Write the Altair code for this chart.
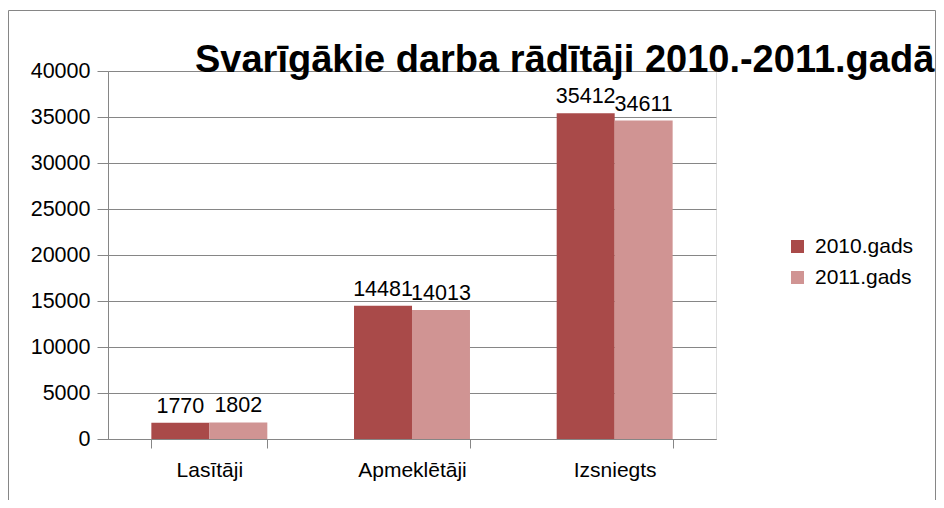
import altair as alt
import pandas as pd

categories = ["Lasītāji", "Apmeklētāji", "Izsniegts"]
series = ["2010.gads", "2011.gads"]
values_2010 = [1770, 14481, 35412]
values_2011 = [1802, 14013, 34611]
title_text = "Svarīgākie darba rādītāji 2010.-2011.gadā"
colors = ["#A94A49", "#D09493"]

rows = []
for c, a, b in zip(categories, values_2010, values_2011):
    rows.append({"cat": c, "series": series[0], "value": a})
    rows.append({"cat": c, "series": series[1], "value": b})
df = pd.DataFrame(rows)

FONT = "Liberation Sans, sans-serif"
TFONT = "Liberation Sans Narrow, Liberation Sans, sans-serif"
GRAY = "#868686"

x_enc = alt.X("cat:N", sort=categories, title=None,
              scale=alt.Scale(paddingInner=0.428, paddingOuter=0.214),
              axis=alt.Axis(labelAngle=0, tickBand="extent", tickSize=9,
                            labelPadding=11, labelFontSize=21, labelFont=FONT,
                            labelColor="#000000", domainColor=GRAY, tickColor=GRAY,
                            grid=False))
xo_enc = alt.XOffset("series:N", sort=series, scale=alt.Scale(paddingInner=0, paddingOuter=0))
y_enc = alt.Y("value:Q", title=None,
              scale=alt.Scale(domain=[0, 40000], nice=False),
              axis=alt.Axis(values=list(range(0, 40001, 5000)), format="d", tickSize=11,
                            labelPadding=7, labelFontSize=21.5, labelFont=FONT,
                            labelColor="#000000", domainColor=GRAY, tickColor=GRAY,
                            gridColor=GRAY, grid=True))

bars = alt.Chart(df).mark_bar(size=58).encode(
    x=x_enc, xOffset=xo_enc, y=y_enc,
    color=alt.Color("series:N", sort=series, title=None,
                    scale=alt.Scale(domain=series, range=colors),
                    legend=alt.Legend(orient="none", legendX=679, legendY=165,
                                      symbolType="square", symbolSize=169,
                                      symbolStrokeWidth=0, labelFontSize=21,
                                      labelFont=FONT, labelColor="#000000",
                                      rowPadding=9, labelOffset=7)),
)

labels = alt.Chart(df).mark_text(baseline="bottom", dy=-5, fontSize=21.5, font=FONT,
                                 color="#000000").encode(
    x=alt.X("cat:N", sort=categories), xOffset=alt.XOffset("series:N", sort=series),
    y="value:Q", text="value:Q",
)

frame_df = pd.DataFrame({"k": [0]})
frame = alt.Chart(frame_df).mark_rect(fill=None, stroke=GRAY, strokeWidth=1).encode(
    x=alt.value(-99.5), x2=alt.value(827.5), y=alt.value(-60.5), y2=alt.value(520),
)

title_df = pd.DataFrame({"t": [title_text]})
title = alt.Chart(title_df).mark_text(align="left", baseline="alphabetic", fontSize=38,
                                      fontWeight="bold", font=TFONT, color="#000000").encode(
    x=alt.value(87), y=alt.value(1), text="t:N",
)

chart = alt.layer(frame, bars, labels, title).properties(
    width=608, height=368,
    autosize=alt.AutoSizeParams(type="none"),
    padding={"left": 100, "top": 63, "right": 220, "bottom": 61},
).configure_view(stroke=None).configure(background="#ffffff")

chart.save("out.html", embed_options={"renderer": "svg", "actions": False})
